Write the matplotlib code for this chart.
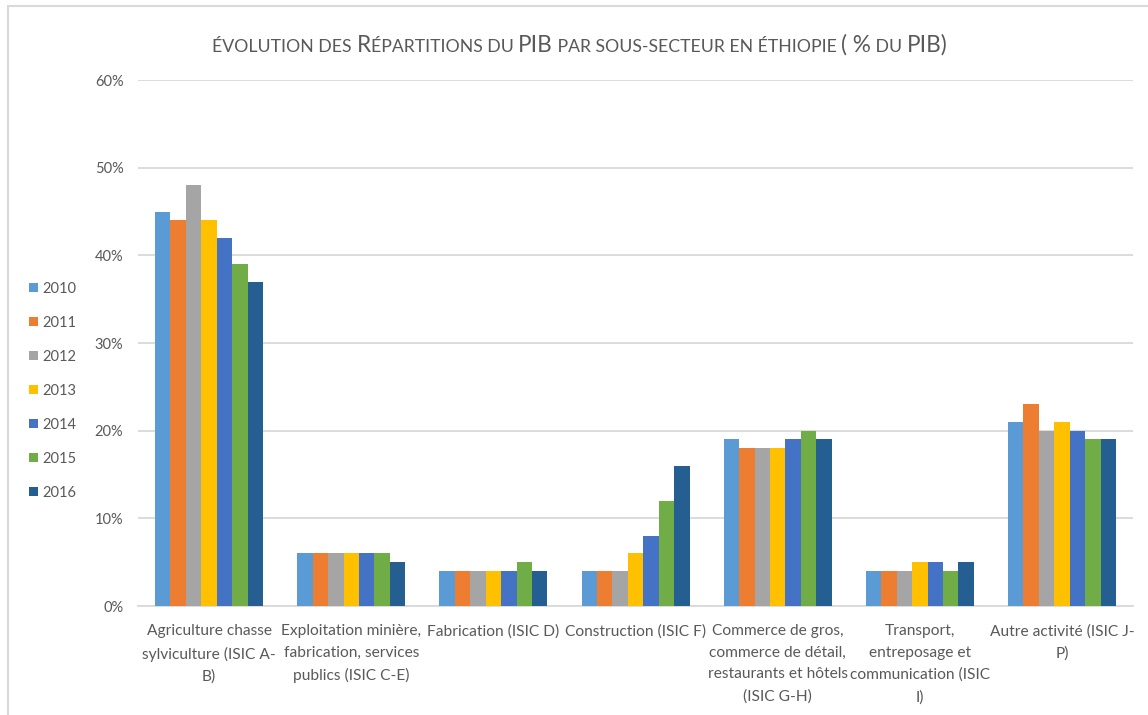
import matplotlib
matplotlib.use('Agg')
from matplotlib import pyplot as plt
from matplotlib.patches import Rectangle
import numpy as np

# Daten
categories = [
    'Agriculture chasse\nsylviculture (ISIC A-\nB)',
    'Exploitation minière,\nfabrication, services\npublics (ISIC C-E)',
    'Fabrication (ISIC D)',
    'Construction (ISIC F)',
    'Commerce de gros,\ncommerce de détail,\nrestaurants et hôtels\n(ISIC G-H)',
    'Transport,\nentreposage et\ncommunication (ISIC\nI)',
    'Autre activité (ISIC J-\nP)',
]
years = ['2010', '2011', '2012', '2013', '2014', '2015', '2016']
v2010 = [45, 6, 4, 4, 19, 4, 21]
v2011 = [44, 6, 4, 4, 18, 4, 23]
v2012 = [48, 6, 4, 4, 18, 4, 20]
v2013 = [44, 6, 4, 6, 18, 5, 21]
v2014 = [42, 6, 4, 8, 19, 5, 20]
v2015 = [39, 6, 5, 12, 20, 4, 19]
v2016 = [37, 5, 4, 16, 19, 5, 19]
series = [v2010, v2011, v2012, v2013, v2014, v2015, v2016]
colors = ['#5B9BD5', '#ED7D31', '#A5A5A5', '#FFC000', '#4472C4', '#70AD47', '#255E91']

plt.rcParams['font.family'] = ['Lato', 'DejaVu Sans']
txt = '#595959'

fig = plt.figure(figsize=(11.48, 7.15), dpi=100)
ax = fig.add_axes([0.1202, 0.1524, 0.8668, 0.7356])

# Rahmen wie Excel
fig.patches.append(Rectangle((8 / 1148, -0.1), 1.2, (715 - 6.5) / 715 + 0.1,
                             transform=fig.transFigure, fill=False,
                             edgecolor='#D9D9D9', linewidth=1.5))

x = np.arange(len(categories))
w = 0.76 / 7
for i, (vals, c, yr) in enumerate(zip(series, colors, years)):
    ax.bar(x + (i - 3) * w, np.array(vals) / 100, width=w, color=c, label=yr, zorder=3)

ax.set_xlim(-0.5, len(categories) - 0.5)
ax.set_ylim(0, 0.6)
ax.set_yticks(np.arange(0, 0.61, 0.1))
ax.set_yticklabels([f'{int(round(t * 100))}%' for t in np.arange(0, 0.61, 0.1)])
ax.yaxis.grid(True, color='#D9D9D9', linewidth=1.3, zorder=0)
ax.set_xticks(x)
ax.set_xticklabels(categories, linespacing=1.7, va='top')
ax.tick_params(axis='x', length=0, pad=13, labelsize=11.2, colors=txt)
ax.tick_params(axis='y', length=0, pad=10.5, labelsize=10.5, colors=txt)
for s in ['top', 'right', 'left']:
    ax.spines[s].set_visible(False)
ax.spines['bottom'].set_color('#D9D9D9')
ax.spines['bottom'].set_linewidth(1.3)

leg = fig.legend(loc='upper left', bbox_to_anchor=(23 / 1148, 1 - 276 / 715),
                 frameon=False, fontsize=10.5, labelspacing=1.37,
                 handlelength=0.62, handleheight=0.62, handletextpad=0.3,
                 borderaxespad=0)
for t in leg.get_texts():
    t.set_color(txt)

# Titel in Kapitälchen (Stück für Stück)
pieces = [('ÉVOLUTION DES ', 0.78), ('R', 1.0), ('ÉPARTITIONS DU ', 0.78), ('PIB', 1.0),
          (' PAR SOUS-SECTEUR EN ÉTHIOPIE ', 0.78), ('( %', 1.0), (' DU ', 0.78), ('PIB)', 1.0)]
renderer = fig.canvas.get_renderer()
base = 15.0
objs = []
total = 0
for s, f in pieces:
    t = fig.text(0, 1 - 52 / 715, s, fontsize=base * f, color=txt, va='baseline', ha='left')
    wd = t.get_window_extent(renderer).width
    objs.append([t, wd, f])
    total += wd
scale = 735 / total
total = 0
for o in objs:
    o[0].set_fontsize(base * o[2] * scale)
    o[1] = o[0].get_window_extent(renderer).width
    total += o[1]
xpos = 580 - total / 2
for t, wd, f in objs:
    t.set_x(xpos / 1148)
    xpos += wd

fig.savefig('out.png', dpi=100)
